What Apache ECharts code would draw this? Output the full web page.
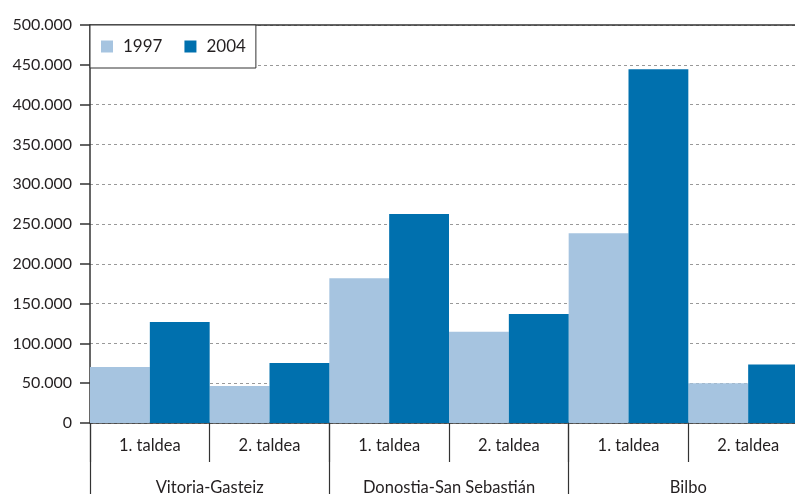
<!DOCTYPE html>
<html>
<head>
<meta charset="utf-8">
<script src="https://cdn.jsdelivr.net/npm/echarts@6/dist/echarts.min.js"></script>
<style>
  html, body { margin: 0; padding: 0; background: #fff; }
  #chart { width: 795px; height: 494px; }
</style>
</head>
<body>
<div id="chart"></div>
<script>
// categories
const groups = ["Vitoria-Gasteiz", "Donostia-San Sebastián", "Bilbo"];
const subCats = ["1. taldea", "2. taldea", "1. taldea", "2. taldea", "1. taldea", "2. taldea"];
// series values
const values1997 = [70500, 46500, 182000, 114500, 238500, 50000];
const values2004 = [127000, 75500, 262500, 137000, 444500, 73500];

const textColor = "#231f20";
const lineColor = "#333333";
const font = "Lato";

const fmt = (v) => String(v).replace(/\B(?=(\d{3})+(?!\d))/g, ".");

const chart = echarts.init(document.getElementById("chart"));
chart.setOption({
  animation: false,
  textStyle: { fontFamily: font },
  // the plot runs a little past the right edge of the picture
  grid: {
    left: 90,
    right: -13,
    top: 25,
    bottom: 71,
    containLabel: false,
    outerBoundsMode: "none",
  },
  legend: {
    left: 90,
    top: 25,
    padding: [13, 10, 13, 11],
    itemWidth: 12,
    itemHeight: 12,
    itemGap: 22,
    icon: "rect",
    borderColor: lineColor,
    borderWidth: 1,
    backgroundColor: "#fff",
    textStyle: { fontSize: 17, color: textColor, fontFamily: font, padding: [0, 0, 0, 5] },
    data: ["1997", "2004"],
  },
  xAxis: [
    {
      type: "category",
      data: subCats,
      position: "bottom",
      axisLine: { show: true, lineStyle: { color: lineColor, width: 1.5 } },
      axisTick: { show: true, length: 39, lineStyle: { color: lineColor, width: 1.2 } },
      axisLabel: { color: textColor, fontSize: 16.5, margin: 14 },
    },
    {
      type: "category",
      data: groups,
      position: "bottom",
      axisLine: { show: false },
      axisTick: { show: true, length: 75, lineStyle: { color: lineColor, width: 1.2 } },
      axisLabel: { color: textColor, fontSize: 16.5, margin: 56 },
    },
    {
      type: "category",
      data: subCats,
      position: "top",
      axisLine: { show: true, lineStyle: { color: lineColor, width: 1.5 } },
      axisTick: { show: false },
      axisLabel: { show: false },
    },
  ],
  yAxis: {
    type: "value",
    min: 0,
    max: 500000,
    interval: 50000,
    axisLine: { show: true, lineStyle: { color: lineColor, width: 1.5 } },
    axisTick: { show: true, length: 10, lineStyle: { color: lineColor, width: 1.5 } },
    axisLabel: { color: textColor, fontSize: 16, margin: 18, formatter: fmt },
    splitLine: { lineStyle: { color: "#999999", type: [3, 3], width: 1 } },
  },
  series: [
    {
      name: "1997",
      type: "bar",
      data: values1997,
      color: "#a6c4e0",
      barGap: "0%",
      barCategoryGap: "0%",
    },
    {
      name: "2004",
      type: "bar",
      data: values2004,
      color: "#0070ae",
      barGap: "0%",
      barCategoryGap: "0%",
    },
  ],
});
</script>
</body>
</html>
